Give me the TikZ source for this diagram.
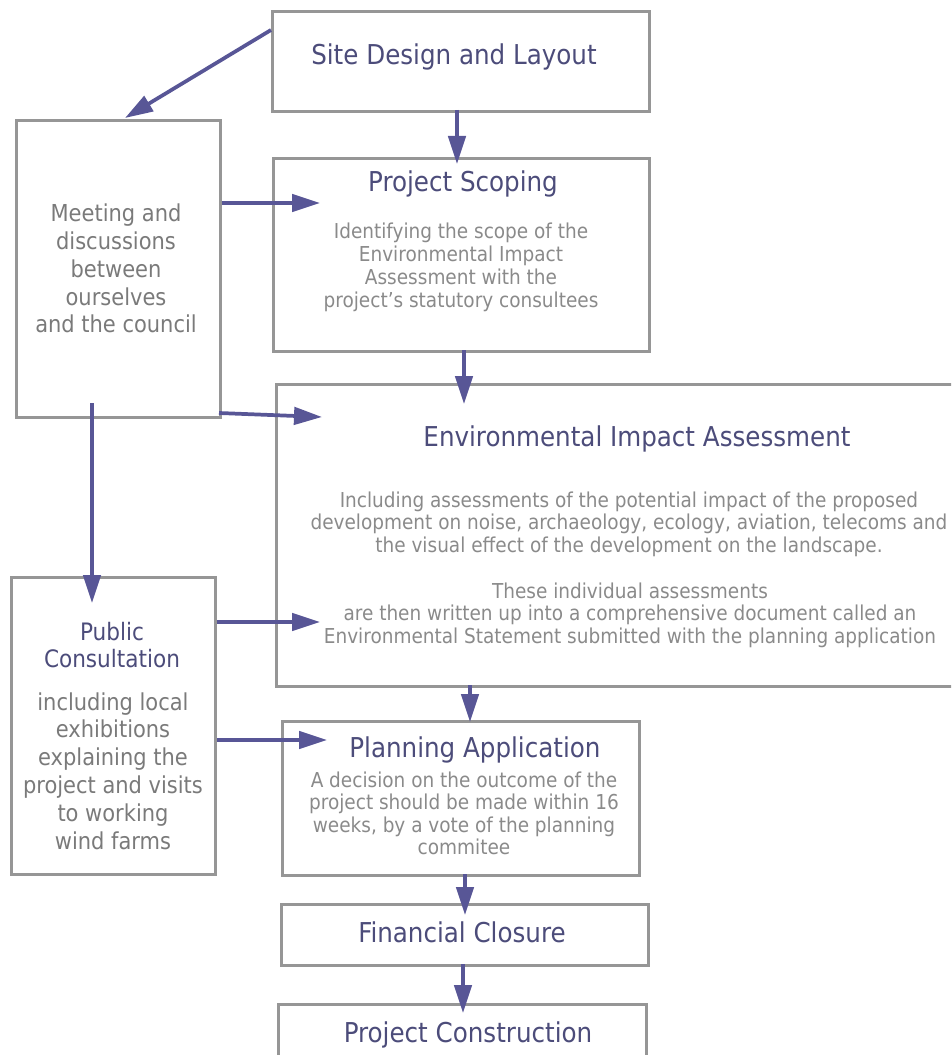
\documentclass[tikz,border=0pt]{standalone}
\usepackage{fontspec}
\setmainfont{DejaVu Sans Condensed}
\usetikzlibrary{arrows.meta}
\definecolor{arrowc}{RGB}{88,86,150}
\definecolor{boxc}{RGB}{150,150,150}
\definecolor{titlec}{RGB}{76,76,122}
\definecolor{bodyc}{RGB}{138,138,138}
\definecolor{sidec}{RGB}{122,122,122}
\tikzset{
  box/.style={draw=boxc, line width=2pt, rectangle, inner sep=0pt, anchor=north west},
  arr/.style={draw=arrowc, line width=2.8pt, -{Triangle[length=21pt,width=13pt]}},
  ttl/.style={text=titlec, font=\fontsize{20.5}{24}\selectfont, inner sep=0pt, anchor=base},
  sttl/.style={text=titlec, font=\fontsize{18}{22}\selectfont, inner sep=0pt, anchor=base},
  bod/.style={text=bodyc, font=\fontsize{15.4}{18}\selectfont, inner sep=0pt, anchor=base},
  sbod/.style={text=sidec, font=\fontsize{17.5}{21}\selectfont, inner sep=0pt, anchor=base},
}
\begin{document}
\begin{tikzpicture}[x=0.75pt,y=-0.75pt]
\useasboundingbox (0,0) rectangle (951,1055);
\begin{scope}
\clip (0,0) rectangle (951,1055);
% boxes
\node[box, minimum width=377*0.75pt, minimum height=100*0.75pt] (site) at (271,10) {};
\node[box, minimum width=376*0.75pt, minimum height=193*0.75pt] (scope) at (272,157) {};
\node[box, minimum width=204*0.75pt, minimum height=297*0.75pt] (meet) at (15,119) {};
\node[box, minimum width=700*0.75pt, minimum height=302*0.75pt] (eia) at (275,383) {};
\node[box, minimum width=204*0.75pt, minimum height=297*0.75pt] (pub) at (10,576) {};
\node[box, minimum width=357*0.75pt, minimum height=154*0.75pt] (plan) at (281,720) {};
\node[box, minimum width=367*0.75pt, minimum height=61*0.75pt] (fin) at (280,903) {};
\node[box, minimum width=368*0.75pt, minimum height=80*0.75pt] (cons) at (277,1003) {};
\end{scope}

% texts
\node[ttl] (sitet) at (454,65) {Site Design and Layout};
\node[ttl] (scopet) at (463,192) {Project Scoping};
\foreach \t [count=\i] in {Identifying the scope of the, Environmental Impact, Assessment with the, project’s statutory consultees}
  \node[bod] (scopeb\i) at (461,{239+22.7*(\i-1)}) {\t};
\foreach \t [count=\i] in {Meeting and, discussions, between, ourselves, and the council}
  \node[sbod] (meetb\i) at (116,{222+27.7*(\i-1)}) {\t};
\node[ttl] (eiat) at (637,446) {Environmental Impact Assessment};
\foreach \t [count=\i] in {Including assessments of the potential impact of the proposed, {development on noise, archaeology, ecology, aviation, telecoms and}, the visual effect of the development on the landscape.}
  \node[bod] (eiab\i) at (629,{507+22.5*(\i-1)}) {\t};
\foreach \t [count=\i] in {These individual assessments, are then written up into a comprehensive document called an, Environmental Statement submitted with the planning application}
  \node[bod] (eiac\i) at (630,{598+22.5*(\i-1)}) {\t};
\node[sttl] (pubt1) at (112,640) {Public};
\node[sttl] (pubt2) at (112,667) {Consultation};
\foreach \t [count=\i] in {including local, exhibitions, explaining the, project and visits, to working, wind farms}
  \node[sbod] (pubb\i) at (113,{710+27.8*(\i-1)}) {\t};
\node[ttl] (plant) at (475,757) {Planning Application};
\foreach \t [count=\i] in {A decision on the outcome of the, project should be made within 16, {weeks, by a vote of the planning}, commitee}
  \node[bod] (planb\i) at (464,{787+22.5*(\i-1)}) {\t};
\node[ttl] (fint) at (462,942) {Financial Closure};
\node[ttl] (const) at (468,1042) {Project Construction};

% arrow end points
\coordinate (a1) at (125,118);
\coordinate (a1s) at (271,30);
\coordinate (a2) at (320,203);
\coordinate (a3s) at (219,413);
\coordinate (a3) at (322,417);
\coordinate (a4) at (320,622);
\coordinate (a5) at (327,740);
\coordinate (a6s) at (92,403);
\coordinate (a6) at (92,603);
\coordinate (v1s) at (457,110); \coordinate (v1) at (457,164);
\coordinate (v2s) at (464,350); \coordinate (v2) at (464,404);
\coordinate (v3s) at (470,685); \coordinate (v3) at (470,722);
\coordinate (v4s) at (465,874); \coordinate (v4) at (465,915);
\coordinate (v5s) at (463,964); \coordinate (v5) at (463,1013);

% connectors
\draw[arr] (a1s) -- (a1);
\draw[arr] (meet.east |- a2) -- (a2);
\draw[arr] (a3s) -- (a3);
\draw[arr] (pub.east |- a4) -- (a4);
\draw[arr] (pub.east |- a5) -- (a5);
\draw[arr] (a6s) -- (a6);
\draw[arr] (v1s) -- (v1);
\draw[arr] (v2s) -- (v2);
\draw[arr] (v3s) -- (v3);
\draw[arr] (v4s) -- (v4);
\draw[arr] (v5s) -- (v5);
\end{tikzpicture}
\end{document}
